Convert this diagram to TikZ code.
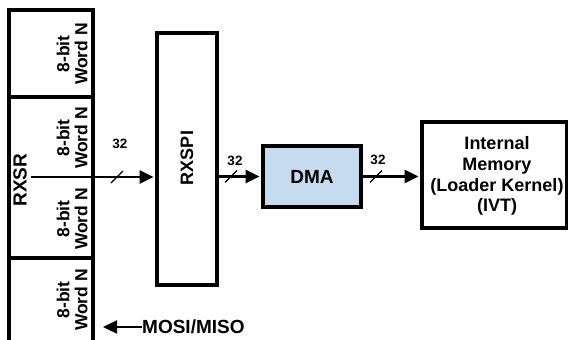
\documentclass[tikz,border=0pt]{standalone}
\usepackage{fontspec}
\setmainfont{Liberation Sans}
\usetikzlibrary{arrows.meta,calc}
\definecolor{dmablue}{RGB}{198,219,240}
\begin{document}
\begin{tikzpicture}[x=1pt,y=-1pt,
  thickline/.style={line width=3.4pt},
  boxnode/.style={draw,line width=3.4pt,inner sep=0pt},
  txt/.style={inner sep=0pt,font=\bfseries\fontsize{19}{20.7}\selectfont,align=center},
  wordtxt/.style={inner sep=0pt,font=\bfseries\fontsize{17.5}{18}\selectfont,align=center,rotate=90},
  numtxt/.style={inner sep=0pt,font=\bfseries\fontsize{13.5}{14}\selectfont},
  arr/.style={line width=2.3pt,-{Triangle[length=14pt,width=13pt]}},
  slashmark/.style={line width=1.4pt}]
\useasboundingbox (0,0) rectangle (568,340);
% RXSR shift register block
\draw[thickline] (9,342) -- (9,10) -- (93,10) -- (93,342);
\draw[thickline] (9,97) -- (93,97);
\draw[thickline] (9,258) -- (93,258);
\node[wordtxt] (w1) at (72,54) {8-bit\\Word N};
\node[wordtxt] (w2) at (72,138) {8-bit\\Word N};
\node[wordtxt] (w3) at (72,219) {8-bit\\Word N};
\node[wordtxt] (w4) at (72,300) {8-bit\\Word N};
\node[txt,rotate=90] (rxsr) at (20,180) {RXSR};
\coordinate (src) at (31,177);
% RXSPI
\node[boxnode,minimum width=60pt,minimum height=252pt] (rxspi) at (187,159) {};
\node[txt,rotate=90,font=\bfseries\fontsize{18}{20}\selectfont] (rxspitxt) at (187,158) {RXSPI};
% DMA
\node[boxnode,fill=dmablue,minimum width=98pt,minimum height=61pt] (dma) at (312,176.5) {};
\node[txt] (dmatxt) at (312,177) {DMA};
% Memory
\node[boxnode,minimum width=145pt,minimum height=106pt] (mem) at (494.5,175) {};
\node[txt,font=\bfseries\fontsize{18}{20.7}\selectfont] (memtxt) at (497,176) {Internal\\Memory\\(Loader Kernel)\\(IVT)};
% arrows
\draw[arr,shorten >=1.7pt] (src) -- (rxspi.west |- src);
\draw[arr,shorten >=1.7pt] (rxspi.east |- dma.west) -- (dma.west);
\draw[arr,shorten >=1.7pt] (dma.east) -- (mem.west |- dma.east);
% bus width marks
\coordinate (s1) at (117,177);
\coordinate (s2) at (231,176.5);
\coordinate (s3) at (376,176.5);
\draw[slashmark] ($(s1)+(-6,6)$) -- ($(s1)+(6,-6)$);
\draw[slashmark] ($(s2)+(-6,6)$) -- ($(s2)+(6,-6)$);
\draw[slashmark] ($(s3)+(-6,6)$) -- ($(s3)+(6,-6)$);
\node[numtxt] (n1) at (120,144) {32};
\node[numtxt] (n2) at (235,160.5) {32};
\node[numtxt] (n3) at (378,160) {32};
% MOSI/MISO
\node[txt,anchor=west] (mosi) at (142,327) {MOSI/MISO};
\coordinate (mosiend) at (103,327);
\draw[arr] (mosi.west) -- (mosiend);
\end{tikzpicture}
\end{document}
